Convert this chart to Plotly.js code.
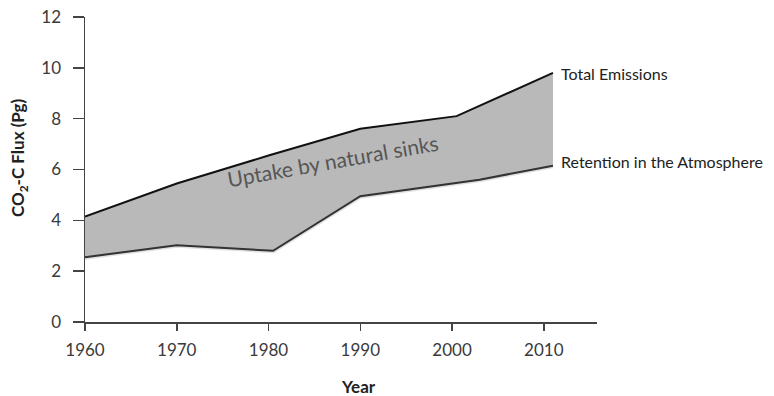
<!DOCTYPE html>
<html>
<head>
<meta charset="utf-8">
<script src="https://cdn.plot.ly/plotly-3.0.1.min.js"></script>
<style>html,body{margin:0;padding:0;background:#fff;}#chart{width:774px;height:396px;}</style>
</head>
<body>
<div id="chart"></div>
<script>
// Data
var retentionYears = [1960, 1970, 1980.5, 1990, 2003, 2011];
var retentionValues = [2.55, 3.02, 2.8, 4.95, 5.6, 6.15];
var emissionYears = [1960, 1970, 1980, 1990, 2000.5, 2011];
var emissionValues = [4.15, 5.45, 6.55, 7.6, 8.1, 9.8];
var xTicks = [1960, 1970, 1980, 1990, 2000, 2010];
var yTicks = [0, 2, 4, 6, 8, 10, 12];

var font = 'Lato, "Open Sans", sans-serif';

var traces = [
  {
    x: retentionYears, y: retentionValues,
    type: 'scatter', mode: 'lines',
    line: {color: 'rgba(0,0,0,0.12)', width: 5},
    hoverinfo: 'skip', showlegend: false
  },
  {
    x: retentionYears, y: retentionValues,
    type: 'scatter', mode: 'lines',
    line: {color: '#333', width: 2},
    hoverinfo: 'skip', showlegend: false
  },
  {
    x: emissionYears, y: emissionValues,
    type: 'scatter', mode: 'lines',
    fill: 'tonexty', fillcolor: '#b9b9b9',
    line: {color: '#111', width: 2},
    hoverinfo: 'skip', showlegend: false
  }
];

var layout = {
  width: 774, height: 396,
  margin: {l: 85, r: 177, t: 17, b: 74},
  paper_bgcolor: '#fff', plot_bgcolor: '#fff',
  font: {family: font, color: '#3a3a3a', size: 17},
  xaxis: {
    range: [1960, 2015.8],
    tickvals: xTicks,
    ticktext: xTicks.map(String),
    showgrid: false, zeroline: false,
    showline: true, linecolor: '#444', linewidth: 1.5,
    ticks: 'outside', ticklen: 7, tickwidth: 1.5, tickcolor: '#444',
    ticklabelstandoff: 5,
    tickfont: {family: font, size: 17, color: '#3a3a3a'}
  },
  yaxis: {
    range: [0, 12],
    tickvals: yTicks,
    showgrid: false, zeroline: false,
    showline: true, linecolor: '#444', linewidth: 1.5,
    ticks: 'outside', ticklen: 11, tickwidth: 1.5, tickcolor: '#444',
    ticklabelstandoff: 8,
    tickfont: {family: font, size: 17, color: '#3a3a3a'}
  },
  annotations: [
    {
      x: (19 - 85) / 512, y: (322 - 158) / 305, xref: 'paper', yref: 'paper',
      xanchor: 'center', yanchor: 'middle',
      text: '<b>CO<sub>2</sub>-C Flux (Pg)</b>', showarrow: false, textangle: -90,
      font: {family: font, size: 17, color: '#222'}
    },
    {
      x: (358 - 85) / 512, y: (322 - 386) / 305, xref: 'paper', yref: 'paper',
      xanchor: 'center', yanchor: 'middle',
      text: '<b>Year</b>', showarrow: false,
      font: {family: font, size: 17, color: '#222'}
    },
    {
      x: 1987, y: 6.35, xref: 'x', yref: 'y',
      text: 'Uptake by natural sinks', showarrow: false,
      textangle: -10,
      font: {family: font, size: 21, color: '#555'}
    },
    {
      x: 2011.7, y: 9.76, xref: 'x', yref: 'y', xanchor: 'left',
      text: 'Total Emissions', showarrow: false,
      font: {family: font, size: 16, color: '#222'}
    },
    {
      x: 2011.7, y: 6.3, xref: 'x', yref: 'y', xanchor: 'left',
      text: 'Retention in the Atmosphere', showarrow: false,
      font: {family: font, size: 16, color: '#222'}
    }
  ]
};

Plotly.newPlot('chart', traces, layout, {staticPlot: true, displayModeBar: false});
</script>
</body>
</html>
